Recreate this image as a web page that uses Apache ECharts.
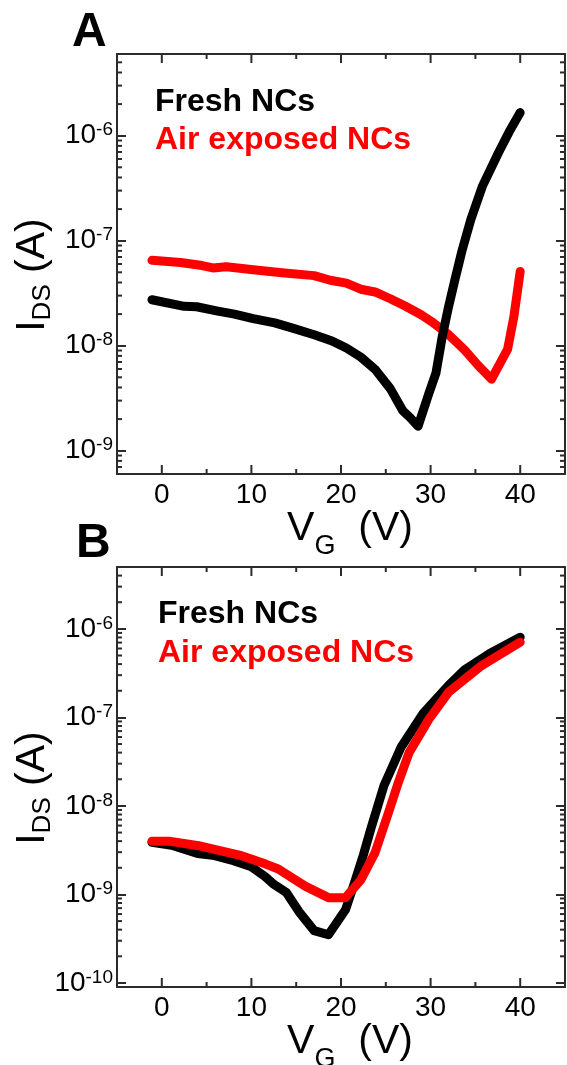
<!DOCTYPE html>
<html>
<head>
	<meta charset="utf-8">
	<title>IDS - VG</title>
	<script src="https://cdn.jsdelivr.net/npm/echarts@6/dist/echarts.min.js"></script>
	<style>
		html, body {margin:0; padding:0; background:#fff;}
		#main {width:567px; height:1065px;}
	</style>
</head>
<body>
	<div id="main"></div>
</body>

<script type="text/javascript">
	//panel A
	var a_fresh_vg = [-1.1, 2.5, 3.9, 6.1, 8.1, 10.2, 12.6, 14.6, 17.0, 19.0, 20.6, 22.2, 23.8, 25.5, 26.9, 27.7, 28.6, 29.8, 30.6, 31.3, 32.0, 32.7, 33.5, 34.5, 35.8, 37.6, 38.8, 40.0];
	var a_fresh_ids = [2.74e-8, 2.37e-8, 2.35e-8, 2.15e-8, 2.0e-8, 1.81e-8, 1.65e-8, 1.47e-8, 1.27e-8, 1.11e-8, 9.5e-9, 7.8e-9, 5.96e-9, 3.9e-9, 2.4e-9, 2.07e-9, 1.71e-9, 3.5e-9, 5.5e-9, 1.22e-8, 2.34e-8, 4.2e-8, 8.0e-8, 1.6e-7, 3.33e-7, 6.95e-7, 1.1e-6, 1.66e-6];
	var a_air_vg = [-1.1, 2.1, 4.5, 5.7, 7.2, 10.2, 13.4, 17.0, 18.8, 20.6, 22.2, 23.8, 25.5, 27.1, 28.9, 30.3, 31.9, 33.8, 35.3, 36.8, 38.6, 39.3, 40.0];
	var a_air_ids = [6.5e-8, 6.2e-8, 5.8e-8, 5.5e-8, 5.65e-8, 5.3e-8, 4.95e-8, 4.65e-8, 4.2e-8, 3.95e-8, 3.45e-8, 3.25e-8, 2.8e-8, 2.4e-8, 1.98e-8, 1.65e-8, 1.3e-8, 9.1e-9, 6.5e-9, 4.8e-9, 9.3e-9, 1.9e-8, 5.1e-8];

	//panel B
	var b_fresh_vg = [-1.1, 1.1, 4.0, 5.9, 8.0, 10.0, 11.5, 12.5, 13.9, 15.3, 17.0, 18.6, 20.5, 21.6, 22.5, 23.4, 24.8, 26.7, 29.2, 32.0, 33.8, 36.6, 40.0];
	var b_fresh_ids = [3.88e-9, 3.6e-9, 2.9e-9, 2.75e-9, 2.4e-9, 2.05e-9, 1.6e-9, 1.3e-9, 1.05e-9, 6.4e-10, 3.9e-10, 3.5e-10, 6.7e-10, 1.45e-9, 2.8e-9, 5.8e-9, 1.7e-8, 4.6e-8, 1.12e-7, 2.29e-7, 3.45e-7, 5.27e-7, 8.05e-7];
	var b_air_vg = [-1.1, 0.8, 4.1, 6.0, 8.9, 11.6, 13.0, 16.0, 18.6, 20.5, 22.2, 23.8, 25.3, 26.4, 27.6, 29.8, 32.0, 35.7, 40.0];
	var b_air_ids = [4.0e-9, 4.0e-9, 3.55e-9, 3.2e-9, 2.74e-9, 2.2e-9, 1.94e-9, 1.24e-9, 9.2e-10, 9.2e-10, 1.45e-9, 2.97e-9, 8.4e-9, 1.84e-8, 4.0e-8, 9.5e-8, 1.92e-7, 3.85e-7, 7.08e-7];

	//axes
	var vg_range = [-5, 45];
	var vg_major = [0, 10, 20, 30, 40];
	var vg_minor = [5, 15, 25, 35];
	var a_ids_range = [6e-10, 6e-6];
	var b_ids_range = [9e-11, 5e-6];

	var font = '"Liberation Sans", Arial, Helvetica, sans-serif';
	var axis_color = '#2b2b2b';
	var line_w = 9;

	function pairs(xs, ys){
		var out = [];
		for(var i = 0; i < xs.length; i++){
			out.push([xs[i], ys[i]]);
		}
		return out;
	}

	function eachOf(arr, fn){
		for(var i = 0; i < arr.length; i++) fn(arr[i]);
	}

	//tick marks not drawn by the axes: x ticks top/bottom, y minor ticks left/right
	function tickData(ids_range){
		var out = [];
		eachOf(vg_major, function(v){ out.push([v, ids_range[0], 9, 0]); });
		eachOf(vg_minor, function(v){ out.push([v, ids_range[0], 5, 0]); });
		var lo = Math.floor(Math.log10(ids_range[0]));
		var hi = Math.ceil(Math.log10(ids_range[1]));
		for(var e = lo; e <= hi; e++){
			for(var m = 2; m <= 9; m++){
				var v = m * Math.pow(10, e);
				if(v > ids_range[0] && v < ids_range[1]){
					out.push([vg_range[0], v, 5, 1]);
				}
			}
		}
		return out;
	}

	function renderTick(params, api){
		var cs = params.coordSys;
		var len = api.value(2);
		var style = {stroke: axis_color, lineWidth: 2};
		var p = api.coord([api.value(0), api.value(1)]);
		if(api.value(3) == 0){
			return {type: 'group', children: [
				{type: 'line', shape: {x1: p[0], y1: cs.y + cs.height, x2: p[0], y2: cs.y + cs.height - len}, style: style},
				{type: 'line', shape: {x1: p[0], y1: cs.y, x2: p[0], y2: cs.y + len}, style: style}
			]};
		}
		return {type: 'group', children: [
			{type: 'line', shape: {x1: cs.x, y1: p[1], x2: cs.x + len, y2: p[1]}, style: style},
			{type: 'line', shape: {x1: cs.x + cs.width, y1: p[1], x2: cs.x + cs.width - len, y2: p[1]}, style: style}
		]};
	}

	function powLabel(value){
		var e = Math.log10(value);
		var r = Math.round(e);
		if(Math.abs(e - r) > 1e-6) return '';
		return '{a|10}{b|' + r + '}';
	}

	function xAxes(gi){
		var line = {show: true, onZero: false, lineStyle: {color: axis_color, width: 2}};
		return [{
			type: 'value', gridIndex: gi, position: 'bottom',
			min: vg_range[0], max: vg_range[1], interval: 5,
			axisLine: line, axisTick: {show: false}, splitLine: {show: false},
			axisLabel: {
				margin: 7, color: '#000', fontSize: 28, fontFamily: font,
				formatter: function(v){ return v % 10 == 0 ? String(v) : ''; }
			},
			//subscript: main text on top of the line box, G at its bottom
			name: '{v|V}{g|G}{v|  (V)}', nameLocation: 'middle', nameGap: 34, nameMoveOverlap: false,
			nameTextStyle: {padding: [0, 0, 0, 18], rich: {
				v: {fontSize: 41, fontFamily: font, color: '#000', lineHeight: 46, verticalAlign: 'top'},
				g: {fontSize: 27, fontFamily: font, color: '#000', lineHeight: 52, verticalAlign: 'bottom'}
			}}
		}, {
			type: 'value', gridIndex: gi, position: 'top',
			min: vg_range[0], max: vg_range[1], interval: 5,
			axisLine: line, axisTick: {show: false}, axisLabel: {show: false}, splitLine: {show: false}
		}];
	}

	function yAxes(gi, ids_range){
		var line = {show: true, onZero: false, lineStyle: {color: axis_color, width: 2}};
		var tick = {show: true, inside: true, length: 9, lineStyle: {color: axis_color, width: 2}};
		return [{
			type: 'log', logBase: 10, gridIndex: gi, position: 'left',
			min: ids_range[0], max: ids_range[1],
			axisLine: line, axisTick: tick, splitLine: {show: false}, minorTick: {show: false},
			axisLabel: {
				margin: 4, formatter: powLabel,
				rich: {
					a: {fontSize: 28, fontFamily: font, color: '#000', lineHeight: 30},
					b: {fontSize: 19, fontFamily: font, color: '#000', lineHeight: 19, verticalAlign: 'top'}
				}
			},
			name: '{m|I}{s|DS}{m| (A)}', nameLocation: 'middle', nameGap: 61, nameMoveOverlap: false,
			nameTextStyle: {padding: [0, 22, 0, 0], rich: {
				m: {fontSize: 41, fontFamily: font, color: '#000', lineHeight: 46},
				s: {fontSize: 26, fontFamily: font, color: '#000', lineHeight: 26, verticalAlign: 'bottom'}
			}}
		}, {
			type: 'log', logBase: 10, gridIndex: gi, position: 'right',
			min: ids_range[0], max: ids_range[1],
			axisLine: line, axisTick: tick, axisLabel: {show: false}, splitLine: {show: false}
		}];
	}

	function lineSeries(name, gi, xs, ys, color){
		return {
			name: name, type: 'line', xAxisIndex: gi * 2, yAxisIndex: gi * 2,
			data: pairs(xs, ys), showSymbol: false, symbol: 'none', smooth: false,
			lineStyle: {color: color, width: line_w, cap: 'round', join: 'round'},
			emphasis: {disabled: true}, z: 2
		};
	}

	function tickSeries(gi, ids_range){
		return {
			type: 'custom', xAxisIndex: gi * 2, yAxisIndex: gi * 2,
			data: tickData(ids_range), renderItem: renderTick, silent: true, clip: false, z: 4
		};
	}

	function label(text, x, y, size, color){
		return {
			type: 'text', x: x, y: y, silent: true,
			style: {text: text, fill: color, font: 'bold ' + size + 'px ' + font, textVerticalAlign: 'middle'}
		};
	}

	var chart = echarts.init(document.getElementById('main'), null, {renderer: 'canvas'});
	chart.setOption({
		backgroundColor: '#fff',
		animation: false,
		grid: [
			{left: 117, top: 54, width: 448, height: 420, containLabel: false, outerBoundsMode: 'none'},
			{left: 117, top: 567, width: 448, height: 420, containLabel: false, outerBoundsMode: 'none'}
		],
		xAxis: xAxes(0).concat(xAxes(1)),
		yAxis: yAxes(0, a_ids_range).concat(yAxes(1, b_ids_range)),
		series: [
			lineSeries('Air exposed NCs', 0, a_air_vg, a_air_ids, '#ff0000'),
			lineSeries('Fresh NCs', 0, a_fresh_vg, a_fresh_ids, '#000000'),
			lineSeries('Fresh NCs', 1, b_fresh_vg, b_fresh_ids, '#000000'),
			lineSeries('Air exposed NCs', 1, b_air_vg, b_air_ids, '#ff0000'),
			tickSeries(0, a_ids_range),
			tickSeries(1, b_ids_range)
		],
		graphic: [
			label('A', 72, 33, 48, '#000'),
			label('B', 76, 544, 48, '#000'),
			label('Fresh NCs', 155, 102, 32, '#000'),
			label('Air exposed NCs', 155, 140, 32, '#ff0000'),
			label('Fresh NCs', 158, 614, 32, '#000'),
			label('Air exposed NCs', 158, 653, 32, '#ff0000')
		]
	});
</script>
</html>
